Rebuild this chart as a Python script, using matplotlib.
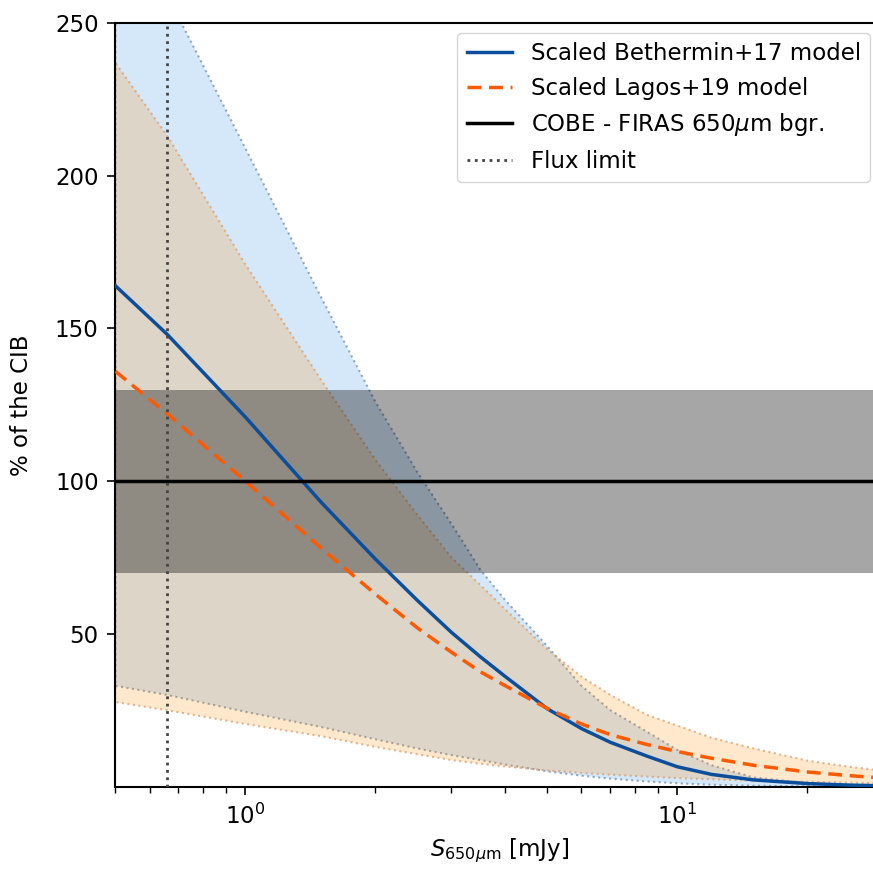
import numpy as np
import matplotlib
matplotlib.use("Agg")
import matplotlib.pyplot as plt

# flux grid [mJy]
S = [0.5, 0.66, 1.0, 1.5, 2.0, 2.5, 3.0, 3.5, 4.0, 5.0, 6.0, 7.0, 8.5, 10, 12, 15, 20, 25, 30]

# Scaled Bethermin+17 model (% of CIB) and its band
beth = [164, 148, 121, 93, 74.5, 61, 50.5, 42.5, 36, 25.5, 19, 14.5, 10, 6.5, 4, 2.2, 1.0, 0.5, 0.3]
beth_hi = [295, 259, 209, 160, 126, 103, 86, 71, 61, 46, 33, 25, 18, 12, 7, 3, 1.2, 0.6, 0.3]
beth_lo = [33, 30, 24.5, 19.5, 15.5, 12.5, 10.3, 8.7, 7.2, 5, 3.6, 2.6, 1.7, 1.1, 0.6, 0.3, 0.1, 0.05, 0.0]

# Scaled Lagos+19 model (% of CIB) and its band
lagos = [136, 122, 100, 78, 63, 52, 44, 37.6, 33, 25.6, 20.5, 17, 13.8, 11.5, 9.3, 7, 4.8, 3.6, 2.8]
lagos_hi = [237, 213, 171, 133, 107, 89, 75, 66, 58, 45, 36, 30, 23.5, 20, 16, 12.5, 8.5, 6.5, 5.2]
lagos_lo = [27.7, 25, 20.5, 16.5, 13, 10.6, 8.7, 7.5, 6.6, 5.3, 4.5, 3.9, 3.3, 2.8, 2.4, 2.0, 1.6, 1.3, 1.1]

# COBE-FIRAS background level and uncertainty band
cobe = 100
cobe_lo, cobe_hi = 70, 130
flux_limit = 0.66

yticks = [50, 100, 150, 200, 250]

plt.rcParams['font.family'] = ['DejaVu Sans']
fig = plt.figure(figsize=(8.73, 8.69), dpi=100)
ax = fig.add_axes([0.1321, 0.0948, 0.8798, 0.8787])

ax.fill_between(S, beth_lo, beth_hi, facecolor=(0.18, 0.55, 0.90, 0.2),
                edgecolor=(0.35, 0.45, 0.58, 0.6), linestyle=':', linewidth=1.5, zorder=1)
ax.fill_between(S, lagos_lo, lagos_hi, facecolor=(1.0, 0.55, 0.0, 0.2),
                edgecolor=(0.85, 0.6, 0.4, 0.7), linestyle=':', linewidth=1.5, zorder=1.1)
ax.axhspan(cobe_lo, cobe_hi, color='black', alpha=0.35, linewidth=0, zorder=1.5)

ax.plot(S, beth, color='#0b4f9c', lw=2.5, label='Scaled Bethermin+17 model', zorder=3)
ax.plot(S, lagos, color='#ff5a00', lw=2.5, ls='--', dashes=(4, 2.2),
        label='Scaled Lagos+19 model', zorder=3)
ax.axhline(cobe, color='black', lw=2.5, label=r'COBE - FIRAS 650$\mu$m bgr.', zorder=3)
ax.axvline(flux_limit, color='#444444', lw=2, ls=':', label='Flux limit', zorder=3)

ax.set_xscale('log')
ax.set_xlim(0.5, 30)
ax.set_ylim(0, 250)
ax.set_yticks(yticks)
ax.tick_params(labelsize=16.5, length=6, width=1.2, pad=6)
ax.tick_params(which='minor', length=4, width=1.0)
for sp in ax.spines.values():
    sp.set_linewidth(1.5)

ax.set_xlabel(r'$S_{650\mu\mathrm{m}}$ [mJy]', fontsize=16.5, labelpad=6)
ax.set_ylabel('% of the CIB', fontsize=16.5, labelpad=16)

ax.legend(loc='upper right', bbox_to_anchor=(870 / 873, (869 - 33) / 869),
          bbox_transform=fig.transFigure, fontsize=16.5, borderaxespad=0,
          handlelength=2.0)

fig.savefig('out.png', dpi=100)
